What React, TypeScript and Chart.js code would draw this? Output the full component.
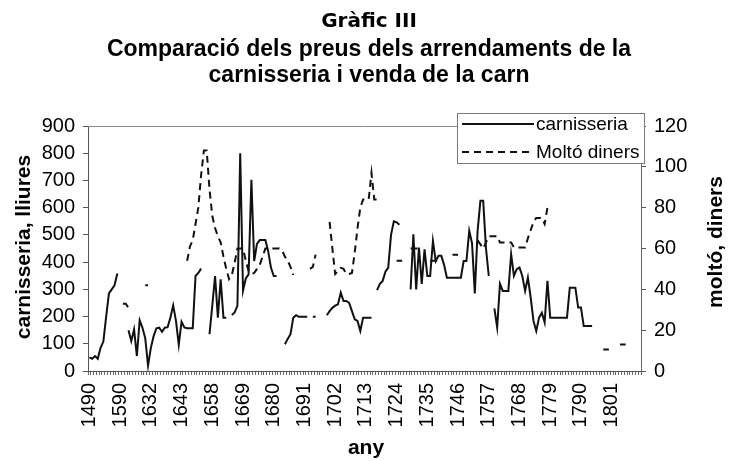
import React, { useEffect, useRef } from 'react';
import { Chart, registerables } from 'chart.js';

Chart.register(...registerables);

const _ = null;

const titleLines = ['Gràfic III', 'Comparació dels preus dels arrendaments de la', 'carnisseria i venda de la carn'];
const leftAxisTitle = 'carnisseria, lliures';
const rightAxisTitle = 'moltó, diners';
const xAxisTitle = 'any';
const seriesNames = ['carnisseria', 'Moltó diners'];

const years = [
  1490, 1500, 1510, 1520, 1530, 1540, 1550, 1560, 1570, 1575,
  1580, 1590, 1595, 1600, 1605, 1610, 1615, 1618, 1620, 1623,
  1626, 1629, 1632, 1633, 1634, 1635, 1636, 1637, 1638, 1639,
  1640, 1641, 1642, 1643, 1644, 1645, 1646, 1647, 1649, 1650,
  1651, 1653, 1655, 1656, 1658, 1659, 1660, 1661, 1662, 1663,
  1664, 1665, 1666, 1667, 1668, 1669, 1670, 1671, 1672, 1673,
  1674, 1675, 1676, 1677, 1678, 1679, 1680, 1681, 1682, 1683,
  1684, 1685, 1686, 1687, 1688, 1689, 1690, 1691, 1692, 1693,
  1694, 1695, 1696, 1697, 1698, 1699, 1700, 1701, 1702, 1703,
  1704, 1705, 1706, 1707, 1708, 1709, 1710, 1711, 1712, 1713,
  1714, 1715, 1716, 1717, 1718, 1719, 1720, 1721, 1722, 1723,
  1724, 1725, 1726, 1727, 1728, 1729, 1730, 1731, 1732, 1733,
  1734, 1735, 1736, 1737, 1738, 1739, 1740, 1741, 1742, 1743,
  1744, 1745, 1746, 1747, 1748, 1749, 1750, 1751, 1752, 1753,
  1754, 1755, 1756, 1757, 1758, 1759, 1760, 1761, 1762, 1763,
  1764, 1765, 1766, 1767, 1768, 1769, 1770, 1771, 1772, 1773,
  1774, 1775, 1776, 1777, 1778, 1779, 1780, 1781, 1782, 1783,
  1784, 1785, 1786, 1787, 1788, 1789, 1790, 1791, 1792, 1793,
  1794, 1795, 1796, 1797, 1798, 1799, 1800, 1801, 1802, 1803,
  1804, 1805, 1806, 1807, 1808, 1809, 1810, 1811,
];

const carnisseria = [
  50, 45, 55, 45, 85, 108, 200, 285, 300, 315,
  358, _, _, _, 150, 110, 153, 55, 186, 159,
  120, 20, 85, 128, 157, 159, 144, 159, 161, 196,
  241, 184, 96, 181, 160, 157, 157, 157, 349, 360,
  376, _, _, 135, 240, 349, 196, 337, 196, 196,
  _, 206, 215, 240, 800, 295, 340, 355, 702, 404,
  467, 481, 481, 481, 441, 380, 349, 349, _, _,
  98, 118, 135, 196, 205, 199, 199, 199, 199, _,
  199, 199, _, _, _, 205, 220, 232, 240, 245,
  288, 257, 257, 250, 220, 190, 184, 147, 196, 196,
  196, 196, _, 297, 320, 331, 365, 380, 500, 550,
  546, 537, _, _, _, 300, 502, 300, 453, 320,
  447, 349, 349, 478, 404, 423, 423, 390, 343, 343,
  343, 343, 343, 343, 404, 404, 515, 470, 285, 515,
  625, 625, 450, 349, _, 230, 160, 320, 294, 294,
  294, 429, 349, 374, 380, 349, 294, 343, 270, 184,
  147, 196, 214, 178, 331, 196, 196, 196, 196, 196,
  196, 196, 306, 306, 306, 233, 233, 165, 165, 165,
  165, _, _, _, _, _, _, _, _, _,
  _, _, _, _, _, _, _, _,
];

const moltoDiners = [
  _, _, _, _, _, _, _, _, _, _,
  _, _, 33, 33, 31, _, _, _, _, _,
  42, 42, _, _, _, _, _, _, _, _,
  _, _, _, _, _, 54, 61, 64, 72, 80,
  96, 108, 108, 89, 76, 70, 66, 63, 56, 50,
  45, 47, 53, 60, 60, 60, 54, 49, 47.5, 48,
  50, 52, 56, 60, 60, 60, 60, 60, 60, 59,
  56, 54, 51, 47, _, _, _, _, _, 50,
  51, 57, _, _, _, _, 73, 60, 47.5, 49,
  50.5, 50, 47.5, 47.5, 48, 58, 70, 80, 84, 84,
  84, 97, 84, 84, 84, _, _, _, _, _,
  54, 54, 54, _, _, 60, 60, 60, 60, 60,
  _, _, 54, 54, 54, 54, 54, _, _, _,
  57, 57, 57, _, _, _, _, _, _, 64,
  62, 60, 63, 66, 66, 66, 66, 63, 63, 63,
  63, 63, 60.5, 60.5, 60.5, 60.5, 60.5, 65, 69, 73,
  75, 75, 75, 72, 80, _, _, _, _, _,
  _, _, _, _, _, _, _, _, _, _,
  _, _, _, _, 10.5, 10.5, 10.5, _, _, _,
  13, 13, 13, _, _, _, _, _,
];

const leftRange = [0, 900, 100];
const rightRange = [0, 120, 20];
const labelEvery = 11;

const SANS = '"Liberation Sans", Arial, sans-serif';
const INK = '#111111';

const decorPlugin = {
  id: 'decor',
  afterDraw(chart: any) {
    const { ctx, chartArea: a } = chart;
    ctx.save();
    ctx.strokeStyle = '#8c8c8c';
    ctx.lineWidth = 1;
    ctx.beginPath();
    ctx.moveTo(a.left, a.top + 0.5);
    ctx.lineTo(a.right, a.top + 0.5);
    ctx.stroke();

    ctx.fillStyle = '#000';
    ctx.textAlign = 'center';
    ctx.textBaseline = 'alphabetic';
    ctx.font = 'bold 20px "DejaVu Sans", sans-serif';
    ctx.fillText(titleLines[0], 369, 27);
    ctx.font = `bold 23px ${SANS}`;
    ctx.fillText(titleLines[1], 369, 56);
    ctx.fillText(titleLines[2], 369, 82);

    ctx.font = `bold 21px ${SANS}`;
    ctx.textBaseline = 'middle';
    ctx.save();
    ctx.translate(24, 247);
    ctx.rotate(-Math.PI / 2);
    ctx.fillText(leftAxisTitle, 0, 0);
    ctx.restore();
    ctx.save();
    ctx.translate(716, 242);
    ctx.rotate(-Math.PI / 2);
    ctx.fillText(rightAxisTitle, 0, 0);
    ctx.restore();
    ctx.fillText(xAxisTitle, 366, 448);

    const lx = 457, ly = 113, lw = 187, lh = 50;
    ctx.fillStyle = '#fff';
    ctx.fillRect(lx, ly, lw, lh);
    ctx.strokeStyle = '#7a7a7a';
    ctx.lineWidth = 1;
    ctx.strokeRect(lx + 0.5, ly + 0.5, lw, lh);
    ctx.strokeStyle = INK;
    ctx.lineWidth = 2;
    ctx.beginPath();
    ctx.moveTo(462, 124);
    ctx.lineTo(534, 124);
    ctx.stroke();
    ctx.setLineDash([7, 5]);
    ctx.beginPath();
    ctx.moveTo(462, 152);
    ctx.lineTo(534, 152);
    ctx.stroke();
    ctx.setLineDash([]);
    ctx.fillStyle = '#000';
    ctx.textAlign = 'left';
    ctx.textBaseline = 'middle';
    ctx.font = `19px ${SANS}`;
    ctx.fillText(seriesNames[0], 536, 125);
    ctx.fillText(seriesNames[1], 536, 153);
    ctx.restore();
  },
};

export default function App() {
  const ref = useRef<HTMLCanvasElement | null>(null);

  useEffect(() => {
    document.body.style.margin = '0';
    const canvas = ref.current;
    if (!canvas) return;
    const chart = new Chart(canvas, {
      type: 'line',
      data: {
        labels: years.map(String),
        datasets: [
          {
            label: seriesNames[0],
            data: carnisseria,
            yAxisID: 'y',
            borderColor: INK,
            borderWidth: 2,
            pointRadius: 0,
            tension: 0,
            spanGaps: false,
            fill: false,
          },
          {
            label: seriesNames[1],
            data: moltoDiners,
            yAxisID: 'y1',
            borderColor: INK,
            borderWidth: 2,
            borderDash: [7, 5],
            pointRadius: 0,
            tension: 0,
            spanGaps: false,
            fill: false,
          },
        ],
      },
      options: {
        responsive: false,
        animation: false,
        devicePixelRatio: 1,
        layout: { padding: { top: 126, left: 0, right: 0, bottom: 0 } },
        plugins: {
          legend: { display: false },
          title: { display: false },
          tooltip: { enabled: false },
        },
        scales: {
          x: {
            type: 'category',
            offset: true,
            afterFit: (s: any) => { s.height = 90; },
            grid: {
              display: true,
              drawOnChartArea: false,
              drawTicks: true,
              tickLength: 4,
              color: '#666',
              offset: true,
            },
            border: { display: true, color: '#555', width: 1 },
            ticks: {
              autoSkip: false,
              minRotation: 90,
              maxRotation: 90,
              padding: 8,
              color: '#000',
              font: { family: SANS, size: 20 },
              callback: (_v: any, i: number) => (i % labelEvery === 0 ? String(years[i]) : ''),
            },
          },
          y: {
            position: 'left',
            min: leftRange[0],
            max: leftRange[1],
            afterFit: (s: any) => { s.width = 88; },
            grid: { display: true, drawOnChartArea: false, drawTicks: true, tickLength: 5, color: '#555' },
            border: { display: true, color: '#555', width: 1 },
            ticks: {
              stepSize: leftRange[2],
              padding: 8,
              color: '#000',
              font: { family: SANS, size: 20 },
            },
          },
          y1: {
            position: 'right',
            min: rightRange[0],
            max: rightRange[1],
            afterFit: (s: any) => { s.width = 95; },
            grid: { display: true, drawOnChartArea: false, drawTicks: true, tickLength: 5, color: '#555' },
            border: { display: true, color: '#666', width: 1 },
            ticks: {
              stepSize: rightRange[2],
              padding: 8,
              color: '#000',
              font: { family: SANS, size: 20 },
            },
          },
        },
      },
      plugins: [decorPlugin],
    });
    return () => chart.destroy();
  }, []);

  return (
    <div style={{ width: 736, height: 461 }}>
      <canvas ref={ref} width={736} height={461} style={{ display: 'block' }} />
    </div>
  );
}
